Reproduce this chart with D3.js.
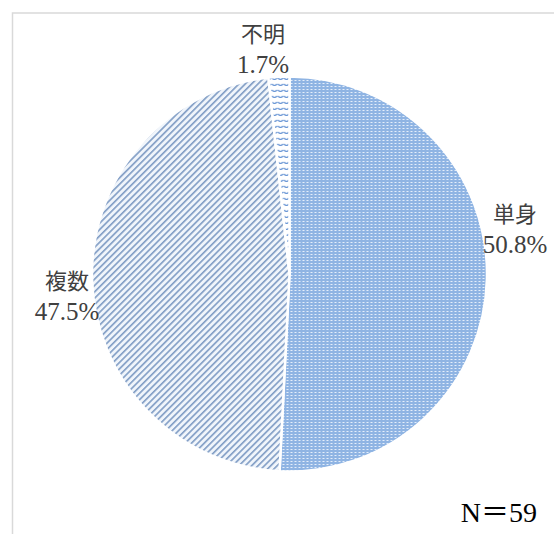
<!DOCTYPE html>
<html>
<head>
<meta charset="utf-8">
<script src="https://cdn.jsdelivr.net/npm/d3@7"></script>
<style>
  html, body { margin: 0; padding: 0; background: #fff; }
  svg { display: block; }
  text { font-family: "Liberation Serif", "Noto Sans CJK JP", serif; }
</style>
</head>
<body>
<script>
// Household composition breakdown
const categories = ["単身", "複数", "不明"];
const percents = [50.8, 47.5, 1.7];
const sampleNote = "N＝59";

const W = 554, H = 534;
const svg = d3.select("body").append("svg").attr("width", W).attr("height", H);
const defs = svg.append("defs");

// Fill patterns for each slice
const pSingle = defs.append("pattern").attr("id", "pat-single")
  .attr("patternUnits", "userSpaceOnUse").attr("width", 4).attr("height", 3);
pSingle.append("rect").attr("width", 4).attr("height", 3).attr("fill", "#8fb4e3");
pSingle.append("rect").attr("x", 1).attr("y", 1).attr("width", 2).attr("height", 1).attr("fill", "#e4eefa");

const pMulti = defs.append("pattern").attr("id", "pat-multi")
  .attr("patternUnits", "userSpaceOnUse").attr("width", 4.5).attr("height", 4.5)
  .attr("patternTransform", "rotate(45)");
pMulti.append("rect").attr("width", 4.5).attr("height", 4.5).attr("fill", "#f0f5fb");
pMulti.append("rect").attr("x", 0).attr("y", 0).attr("width", 1.6).attr("height", 4.5).attr("fill", "#7f9cc4");

const pUnknown = defs.append("pattern").attr("id", "pat-unknown")
  .attr("patternUnits", "userSpaceOnUse").attr("width", 6).attr("height", 6);
pUnknown.append("rect").attr("width", 6).attr("height", 6).attr("fill", "#ffffff");
pUnknown.append("path").attr("d", "M0.5,2 Q3,5 5.5,2").attr("fill", "none")
  .attr("stroke", "#5f8fd2").attr("stroke-width", 1.2);

const fills = ["url(#pat-single)", "url(#pat-multi)", "url(#pat-unknown)"];

// Chart frame
svg.append("rect").attr("x", 12.5).attr("y", 13).attr("width", W + 20).attr("height", H + 20)
  .attr("fill", "none").attr("stroke", "#d9d9d9").attr("stroke-width", 1.5);

const cx = 289.5, cy = 274, radius = 197.5;
const g = svg.append("g").attr("transform", `translate(${cx},${cy})`);

const pie = d3.pie().sort(null).value(d => d);
const arcs = pie(percents);
const arc = d3.arc().innerRadius(0).outerRadius(radius);

g.selectAll("path.slice").data(arcs).join("path")
  .attr("class", "slice")
  .attr("d", arc)
  .attr("fill", (d, i) => fills[i])
  .attr("stroke", "#ffffff")
  .attr("stroke-width", 2.5)
  .attr("stroke-linejoin", "round");

// Data labels (name above value), placed beside each slice
const labelAnchor = [
  { x: 515, y: 222 },
  { x: 67, y: 289 },
  { x: 263, y: 42 }
];
const lbl = svg.append("g");
arcs.forEach((d, i) => {
  const p = labelAnchor[i];
  const t = lbl.append("text")
    .attr("x", p.x).attr("y", p.y)
    .attr("text-anchor", "middle")
    .attr("fill", "#404040")
    .attr("font-size", 25);
  t.append("tspan").attr("x", p.x).attr("y", p.y).attr("font-size", 22).text(categories[i]);
  t.append("tspan").attr("x", p.x).attr("y", p.y + 31).text(d3.format(".1f")(d.data) + "%");
});

svg.append("text")
  .attr("x", 537).attr("y", 522)
  .attr("text-anchor", "end")
  .attr("fill", "#000")
  .attr("font-size", 28)
  .text(sampleNote);
</script>
</body>
</html>
